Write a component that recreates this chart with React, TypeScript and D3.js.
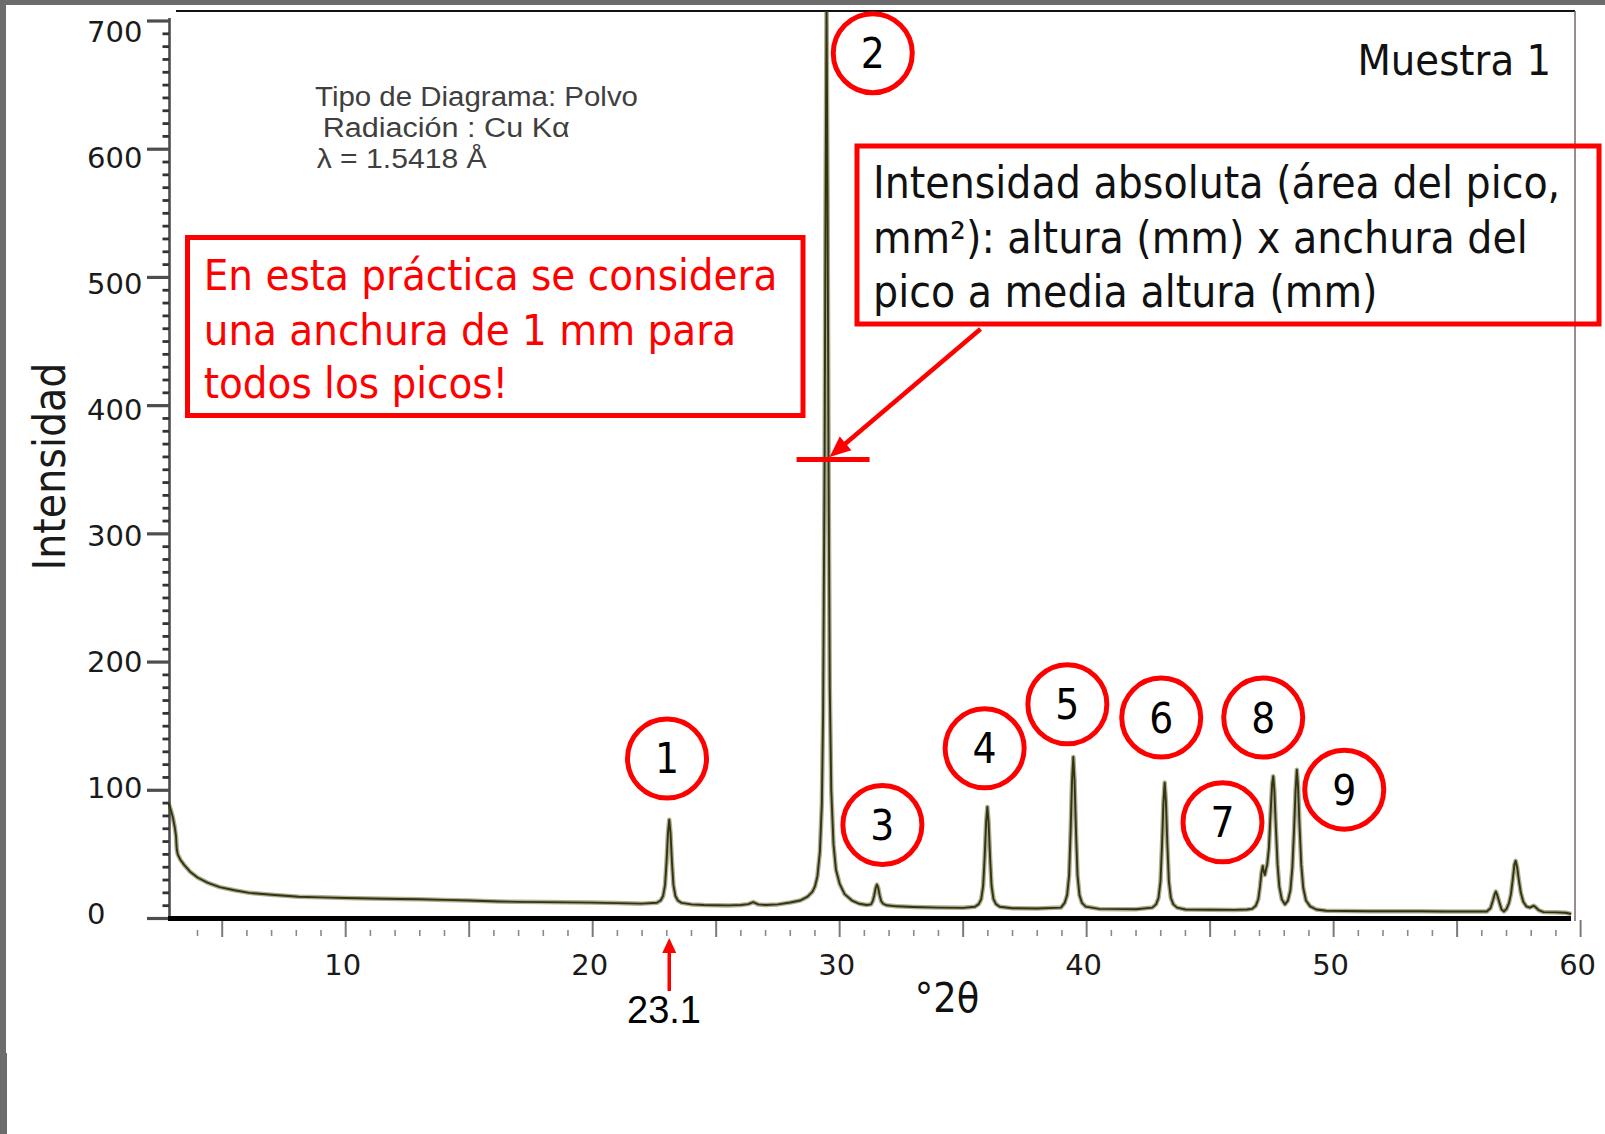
import React from "react";
import * as d3 from "d3";

const W = 1605;
const H = 1134;

// X-ray powder diffraction pattern, sample 1: 2θ (degrees) and intensity (counts)
const twoTheta = [
  2.82, 2.9, 3.0, 3.08, 3.13, 3.16, 3.2, 3.3, 3.45, 3.7, 4.0, 4.4, 4.9, 5.5, 6.1, 7.0, 8.1, 9.0,
  10.0, 11.0, 12.2, 13.0, 14.0, 15.0, 16.2, 17.0, 18.0, 19.0, 20.0, 21.0, 22.0,
  22.6, 22.75, 22.85, 22.93, 22.99, 23.05, 23.1, 23.15, 23.21, 23.27, 23.35, 23.45, 23.6,
  24.0, 24.5, 25.0, 25.5, 26.0, 26.3, 26.5, 26.7, 27.0, 27.5, 28.0, 28.4, 28.7, 28.9, 29.0,
  29.1, 29.2, 29.28, 29.33, 29.39, 29.43, 29.47, 29.51, 29.55, 29.6, 29.66, 29.75, 29.85,
  30.0, 30.2, 30.5, 30.8, 31.1,
  31.27, 31.34, 31.4, 31.46, 31.51, 31.56, 31.62, 31.68, 31.76, 31.9,
  32.3, 33.0, 34.0, 35.0,
  35.48, 35.63, 35.73, 35.81, 35.87, 35.93, 35.98, 36.03, 36.09, 36.15, 36.23, 36.33, 36.48,
  37.0, 38.0,
  38.96, 39.11, 39.21, 39.29, 39.35, 39.41, 39.46, 39.51, 39.57, 39.63, 39.71, 39.81, 39.96,
  40.5, 41.5, 42.0,
  42.66, 42.81, 42.91, 42.99, 43.05, 43.11, 43.16, 43.21, 43.27, 43.33, 43.41, 43.51, 43.66,
  44.0, 45.0, 46.0, 46.5, 46.7, 46.85, 46.95, 47.02, 47.08, 47.13, 47.18, 47.22, 47.27, 47.31,
  47.38, 47.45, 47.51, 47.555, 47.6, 47.66, 47.73, 47.8, 47.9, 48.03, 48.15, 48.25, 48.33,
  48.4, 48.46, 48.51, 48.56, 48.62, 48.69, 48.77, 48.88, 49.05, 49.3, 49.7,
  50.5, 51.5, 52.5, 53.5, 54.5, 55.5, 56.2,
  56.35, 56.45, 56.52, 56.57, 56.63, 56.72, 56.8, 56.9, 57.0, 57.1, 57.18, 57.25, 57.32, 57.37,
  57.43, 57.5, 57.58, 57.68, 57.8, 57.95, 58.05, 58.1, 58.17, 58.3, 58.5, 59.0, 59.4, 59.62,
];

const intensity = [
  90, 86, 79, 71, 64, 54, 50, 46, 42, 36.5, 32, 28, 24.5, 22, 20, 18.5, 17, 16.5,
  16, 15.6, 15.2, 15, 14.5, 14, 13.3, 13, 12.8, 12.6, 12.4, 12, 11.6,
  12.3, 14, 17.5, 26, 44, 67, 77, 67, 44, 26, 17.5, 14, 12.2,
  11, 10.5, 10.3, 10.2, 10.5, 11.2, 12.8, 11, 10.5, 11, 12.5, 14, 17, 21, 25,
  33, 52, 90, 160, 357, 560, 716, 560, 357, 180, 100, 58, 38,
  27, 19, 14, 11.5, 10.5,
  11, 13.6, 18, 24, 26.5, 24, 18, 13.6, 11.5, 10.3,
  9.5, 9, 8.5, 8.3,
  9.2, 11.2, 15, 25.4, 47.5, 75, 87, 75, 47.5, 25.4, 15, 11.2, 9.2,
  8, 7.8,
  8.5, 12.2, 18.2, 33.6, 67, 108, 126, 108, 67, 33.6, 18.2, 12.2, 9.3,
  7.5, 7.3, 7.2,
  8.5, 11, 16, 28.8, 56.5, 91, 106, 91, 56.5, 28.8, 16, 11, 8.5,
  7, 6.8, 6.7, 7, 7.5, 10, 15, 25, 36, 41, 36, 34, 39, 42,
  55, 83, 105, 111, 100, 72, 42, 25, 15, 11, 14, 22, 40,
  70, 100, 116, 103, 72, 42, 24, 14, 9.5, 7, 6,
  5.8, 5.7, 5.6, 5.6, 5.5, 5.5, 5.5,
  8, 14, 19, 21, 18, 12, 7, 5.5, 7.5, 12, 19, 30, 42, 45,
  40, 30, 20, 13, 9.5, 8.5, 9.5, 10, 9, 6.5, 5, 4.8, 4.5, 3.5,
];

// Axis ticks
const xMajorTicks = [5, 10, 15, 20, 25, 30, 35, 40, 45, 50, 55, 60];
const xMinorTicks = d3.range(4, 61).filter((v) => v % 5 !== 0);
const xTickLabels = [10, 20, 30, 40, 50, 60];
const yMajorTicks = [0, 100, 200, 300, 400, 500, 600, 700];
const yMinorTicks = d3.range(10, 700, 10).filter((v) => v % 100 !== 0);

// Numbered peaks and the centre of each callout circle, in chart units (2θ, counts)
const peakNumbers = ["1", "2", "3", "4", "5", "6", "7", "8", "9"];
const calloutTheta = [23.01, 31.34, 31.73, 35.87, 39.22, 43.02, 45.5, 47.15, 50.43];
const calloutCounts = [124.8, 674.9, 72.9, 132.7, 167.1, 156.7, 75.0, 156.7, 100.5];

// Peak used for the half-height illustration and the marked reflection
const mainPeakTheta = 29.47;
const mainPeakHeight = 716;
const markedTheta = 23.1;

const pattern = twoTheta.map((t, i) => ({ t, c: intensity[i] }));

const RED = "#ff0000";
const AXIS_GRAY = "#4d4d4d";

// Tahoma-like text: DejaVu Sans narrowed horizontally
function Narrow({
  x,
  y,
  size,
  anchor = "start",
  fill = "#111",
  rotate = 0,
  children,
}: {
  x: number;
  y: number;
  size: number;
  anchor?: "start" | "middle" | "end";
  fill?: string;
  rotate?: number;
  children: React.ReactNode;
}) {
  return (
    <text
      transform={`translate(${x},${y}) rotate(${rotate}) scale(0.9,1)`}
      fontFamily="'DejaVu Sans', Verdana, sans-serif"
      fontSize={size}
      textAnchor={anchor}
      fill={fill}
    >
      {children}
    </text>
  );
}

export default function App() {
  const x = d3.scaleLinear().domain([10, 60]).range([345.7, 1580.6]);
  const y = d3.scaleLinear().domain([0, 700]).range([918.5, 21]);
  // tick labels sit on a slightly tighter ladder than the tick marks
  const yLabel = d3.scaleLinear().domain([0, 700]).range([913, 31.5]);

  const line = d3
    .line<{ t: number; c: number }>()
    .x((d) => x(d.t))
    .y((d) => y(d.c))
    .curve(d3.curveLinear);
  const tracePath = line(pattern) ?? "";

  const axisX0 = 168;
  const axisXEnd = 1571;
  const frameRight = 1575;
  const frameTop = 11;

  // half-height marker on the main peak
  const halfY = y(mainPeakHeight / 2);
  const peakX = x(mainPeakTheta);

  // arrow from the definition box to the half-height marker
  const arrowStart: [number, number] = [980.5, 329];
  const arrowTip: [number, number] = [peakX + 3, halfY - 2.5];
  const adx = arrowTip[0] - arrowStart[0];
  const ady = arrowTip[1] - arrowStart[1];
  const alen = Math.hypot(adx, ady);
  const ux = adx / alen;
  const uy = ady / alen;
  const headLen = 21;
  const headHalf = 9;
  const baseX = arrowTip[0] - ux * headLen;
  const baseY = arrowTip[1] - uy * headLen;
  const head = [
    [arrowTip[0], arrowTip[1]],
    [baseX - uy * headHalf, baseY + ux * headHalf],
    [baseX + uy * headHalf, baseY - ux * headHalf],
  ]
    .map((p) => p.join(","))
    .join(" ");

  const markX = x(markedTheta);

  return (
    <div style={{ position: "absolute", left: 0, top: 0, width: W, height: H }}>
      <svg width={W} height={H} viewBox={`0 0 ${W} ${H}`} style={{ display: "block", background: "#fff" }}>
        <defs>
          <clipPath id="plotClip">
            <rect x={axisX0} y={frameTop} width={frameRight - axisX0} height={930 - frameTop} />
          </clipPath>
        </defs>

        {/* page edge */}
        <rect x={0} y={0} width={W} height={5} fill="#6c6c6c" />
        <rect x={0} y={0} width={6} height={1053} fill="#6c6c6c" />
        <rect x={0} y={1053} width={7} height={H - 1053} fill="#6c6c6c" />

        {/* plot frame */}
        <line x1={176} x2={frameRight} y1={frameTop} y2={frameTop} stroke="#111" strokeWidth={2} />
        <line x1={frameRight} x2={frameRight} y1={frameTop} y2={921} stroke="#7d6464" strokeWidth={1.5} />

        {/* y axis */}
        <line x1={169.5} x2={169.5} y1={18} y2={921} stroke={AXIS_GRAY} strokeWidth={2.6} />
        {yMajorTicks.map((v) => (
          <line key={`ym${v}`} x1={147} x2={170} y1={y(v)} y2={y(v)} stroke={AXIS_GRAY} strokeWidth={3.2} />
        ))}
        {yMinorTicks.map((v) => (
          <line key={`yn${v}`} x1={162.5} x2={169} y1={y(v)} y2={y(v)} stroke="#333" strokeWidth={2.8} />
        ))}
        {yMajorTicks.map((v) => (
          <text
            key={`yl${v}`}
            x={87}
            y={yLabel(v) + 10.5}
            fontFamily="'DejaVu Sans', Verdana, sans-serif"
            fontSize={29}
            fill="#1a1a1a"
          >
            {v}
          </text>
        ))}
        <Narrow x={65} y={466.5} size={44} anchor="middle" rotate={-90} fill="#1a1a1a">
          Intensidad
        </Narrow>

        {/* x axis */}
        {xMajorTicks.map((v) => (
          <line key={`xm${v}`} x1={x(v)} x2={x(v)} y1={920} y2={937} stroke="#7a7a7a" strokeWidth={2} />
        ))}
        {xMinorTicks.map((v) => (
          <line key={`xn${v}`} x1={x(v)} x2={x(v)} y1={930} y2={936} stroke="#8a8a8a" strokeWidth={1.6} />
        ))}
        {xTickLabels.map((v) => (
          <text
            key={`xl${v}`}
            x={x(v) - 3}
            y={975}
            textAnchor="middle"
            fontFamily="'DejaVu Sans', Verdana, sans-serif"
            fontSize={29}
            fill="#1a1a1a"
          >
            {v}
          </text>
        ))}
        <Narrow x={947} y={1012} size={41} anchor="middle" fill="#111">
          °2θ
        </Narrow>

        {/* diffraction trace (wide faint band for the counting noise, dark core) */}
        <g clipPath="url(#plotClip)">
          <path d={tracePath} fill="none" stroke="#4a4a1a" strokeOpacity={0.45} strokeWidth={4.5} strokeLinejoin="round" />
          <path d={tracePath} fill="none" stroke="#34340c" strokeWidth={1.9} strokeLinejoin="round" />
        </g>

        {/* zero line */}
        <line x1={axisX0} x2={axisXEnd} y1={y(0)} y2={y(0)} stroke="#000" strokeWidth={5} />

        {/* instrument notes */}
        <g fontFamily="'Liberation Sans', Arial, sans-serif" fontSize={27} fill="#3f3f3f">
          <text x={315} y={106} textLength={323} lengthAdjust="spacingAndGlyphs">
            Tipo de Diagrama: Polvo
          </text>
          <text x={322.7} y={137} textLength={247} lengthAdjust="spacingAndGlyphs">
            Radiación : Cu Kα
          </text>
          <text x={316.7} y={168} textLength={170} lengthAdjust="spacingAndGlyphs">
            λ = 1.5418 Å
          </text>
        </g>

        <Narrow x={1551} y={75} size={43} anchor="end" fill="#111">
          Muestra 1
        </Narrow>

        {/* note box: peak width */}
        <rect x={187.5} y={237.5} width={615.5} height={178} fill="none" stroke={RED} strokeWidth={5} />
        <Narrow x={203.7} y={290} size={43.3} fill={RED}>
          En esta práctica se considera
        </Narrow>
        <Narrow x={203.7} y={344.5} size={43.3} fill={RED}>
          una anchura de 1 mm para
        </Narrow>
        <Narrow x={203.7} y={398} size={43.3} fill={RED}>
          todos los picos!
        </Narrow>

        {/* note box: absolute intensity */}
        <rect x={857} y={146} width={742} height={178} fill="none" stroke={RED} strokeWidth={5} />
        <Narrow x={873} y={198} size={44} fill="#111">
          Intensidad absoluta (área del pico,
        </Narrow>
        <Narrow x={873} y={252.5} size={44} fill="#111">
          mm²): altura (mm) x anchura del
        </Narrow>
        <Narrow x={873} y={306.5} size={44} fill="#111">
          pico a media altura (mm)
        </Narrow>

        {/* half-height marker and arrow */}
        <line x1={peakX - 30} x2={peakX + 43} y1={halfY} y2={halfY} stroke={RED} strokeWidth={5} />
        <line x1={arrowStart[0]} y1={arrowStart[1]} x2={baseX + ux * 2} y2={baseY + uy * 2} stroke={RED} strokeWidth={4.5} />
        <polygon points={head} fill={RED} />

        {/* marked reflection position */}
        <line x1={markX} x2={markX} y1={991} y2={951} stroke={RED} strokeWidth={3.5} />
        <polygon points={`${markX},938 ${markX - 7},953 ${markX + 7},953`} fill={RED} />
        <text
          x={664}
          y={1023}
          textAnchor="middle"
          fontFamily="'Liberation Sans', Arial, sans-serif"
          fontSize={38}
          fill="#000"
        >
          {markedTheta}
        </text>

        {/* numbered peak callouts */}
        {peakNumbers.map((n, i) => {
          const cx = x(calloutTheta[i]);
          const cy = y(calloutCounts[i]);
          return (
            <g key={`c${n}`}>
              <circle cx={cx} cy={cy} r={39.5} fill="none" stroke={RED} strokeWidth={5} />
              <Narrow x={cx} y={cy + 15} size={42} anchor="middle" fill="#000">
                {n}
              </Narrow>
            </g>
          );
        })}
      </svg>
    </div>
  );
}
